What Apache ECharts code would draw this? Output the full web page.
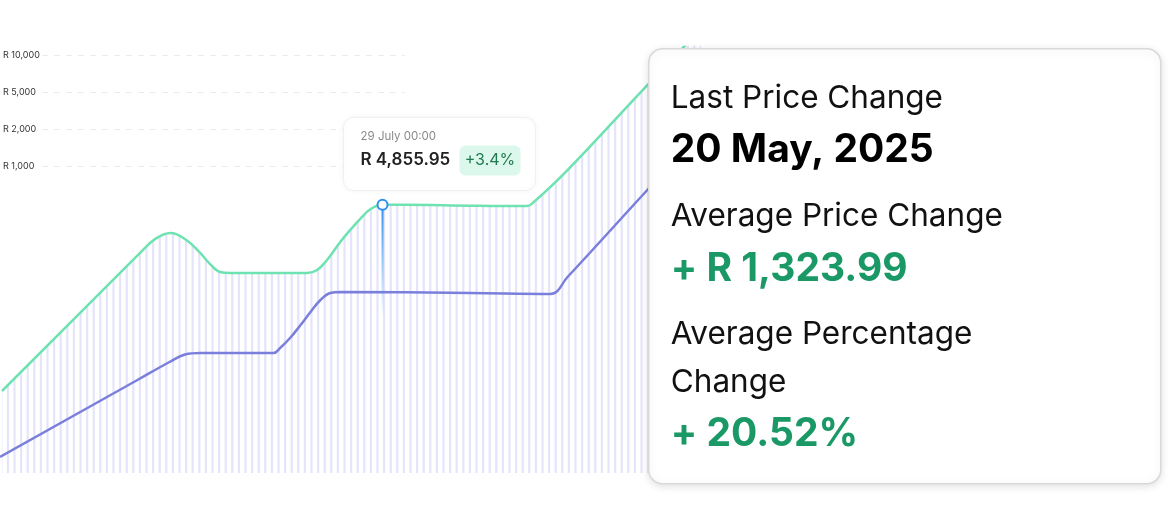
<!DOCTYPE html>
<html>
<head>
<meta charset="utf-8">
<script src="https://cdn.jsdelivr.net/npm/echarts@6/dist/echarts.min.js"></script>
<style>
  html, body { margin: 0; padding: 0; background: #ffffff; }
  #chart { width: 1176px; height: 532px; }
</style>
</head>
<body>
<div id="chart"></div>
<script>
// ---- data ----
const yTickLabels = ['R 1,000', 'R 2,000', 'R 5,000', 'R 10,000'];

// day index vs price
const greenDays   = [0.3, 21.2, 23.5, 25.8, 28.2, 30.3, 31.8, 33.3, 34.8, 46.5, 48.0, 49.5, 51.5, 53.0, 54.5, 56.1, 57.9, 60.6, 71.2, 75.8, 79.8, 80.8, 85.9, 97.7, 106.1];
const greenPrices = [1485, 3984, 4240, 4346, 4220, 3984, 3784, 3640, 3621, 3621, 3676, 3857, 4183, 4400, 4599, 4780, 4855.95, 4856, 4840, 4835, 4835, 4907, 5486, 6989, 8040];

const blueDays   = [0, 20.8, 25.8, 28.0, 30.3, 41.4, 42.4, 43.9, 45.5, 47.0, 48.5, 50.0, 51.5, 71.2, 83.3, 85.9, 97.7, 106.1];
const bluePrices = [290, 1684, 2019, 2146, 2173, 2173, 2263, 2444, 2680, 2915, 3133, 3259, 3277, 3259, 3241, 3549, 5088, 6174];

const hoverDay = 57.9;
const hoverPrice = 4855.95;
const hoverDate = '29 July 00:00';
const hoverLabel = 'R 4,855.95';
const hoverChange = '+3.4%';

const panelTitle = 'Last Price Change';
const panelDate = '20 May, 2025';
const avgPriceTitle = 'Average Price Change';
const avgPriceValue = '+ R 1,323.99';
const avgPctTitle1 = 'Average Percentage';
const avgPctTitle2 = 'Change';
const avgPctValue = '+ 20.52%';

// ---- stripe pattern ----
const pc = document.createElement('canvas');
pc.width = 33; pc.height = 4;
const pctx = pc.getContext('2d');
pctx.fillStyle = 'rgba(120,120,235,0.2)';
for (let i = 0; i < 5; i++) pctx.fillRect(i * 6.6 + 0.2, 0, 2.2, 4);

const zip = (a, b) => a.map((v, i) => [v, b[i]]);

const chart = echarts.init(document.getElementById('chart'), null, { renderer: 'canvas' });
const FONT = 'Inter, "Noto Sans", sans-serif';

function G(el) { el.zlevel = 2; el.z = 100; return el; }

const option = {
  animation: false,
  grid: [
    { left: 0, right: 0, top: 47, bottom: 59 },
    { left: 40, top: 55, width: 365, height: 111 }
  ],
  xAxis: [
    { type: 'value', min: 0, max: 178, show: false, gridIndex: 0 },
    { type: 'value', min: 0, max: 1, show: false, gridIndex: 1 }
  ],
  yAxis: [
    { type: 'value', min: 0, max: 7714, show: false, gridIndex: 0 },
    {
      type: 'category', gridIndex: 1, data: yTickLabels, boundaryGap: false,
      axisLine: { show: false }, axisTick: { show: false },
      axisLabel: { align: 'left', margin: 39, fontSize: 9, color: '#333', fontFamily: FONT },
      splitLine: { show: true, lineStyle: { type: [6, 6], color: '#ebebeb', width: 1 } }
    }
  ],
  series: [
    {
      type: 'line', xAxisIndex: 0, yAxisIndex: 0,
      data: zip(greenDays, greenPrices),
      smooth: 0.4, symbol: 'none',
      lineStyle: { color: '#6ee2b0', width: 2.5 },
      areaStyle: { color: { image: pc, repeat: 'repeat' }, opacity: 1 },
      z: 3
    },
    {
      type: 'line', xAxisIndex: 0, yAxisIndex: 0,
      data: zip(blueDays, bluePrices),
      smooth: 0.4, symbol: 'none',
      lineStyle: { color: '#7a7fdb', width: 2.5 },
      z: 4
    },
    {
      type: 'custom', xAxisIndex: 0, yAxisIndex: 0,
      data: [[hoverDay, hoverPrice]],
      z: 5,
      renderItem: function (params, api) {
        const p = api.coord([api.value(0), api.value(1)]);
        return {
          type: 'group',
          children: [
            {
              type: 'rect',
              shape: { x: p[0] - 1, y: p[1], width: 2, height: 112 },
              style: {
                fill: new echarts.graphic.LinearGradient(0, 0, 0, 1, [
                  { offset: 0, color: 'rgba(47,143,240,1)' },
                  { offset: 1, color: 'rgba(47,143,240,0)' }
                ])
              }
            },
            {
              type: 'circle',
              shape: { cx: p[0], cy: p[1], r: 5 },
              style: { fill: '#ffffff', stroke: '#2f8ff0', lineWidth: 2 }
            }
          ]
        };
      }
    }
  ],
  graphic: [
    G({
      type: 'group', left: 343, top: 117,
      children: [
        G({ type: 'rect', shape: { x: 0, y: 0, width: 192, height: 73, r: 10 },
          style: { fill: '#ffffff', stroke: '#f0f0f4', lineWidth: 1, shadowBlur: 6, shadowColor: 'rgba(0,0,0,0.05)' } }),
        G({ type: 'text', x: 17, y: 19, style: { text: hoverDate, font: '400 11.5px ' + FONT, fill: '#8a8a8a', verticalAlign: 'middle' } }),
        G({ type: 'text', x: 17, y: 42, style: { text: hoverLabel, font: '600 17px ' + FONT, fill: '#222222', verticalAlign: 'middle' } }),
        G({ type: 'rect', shape: { x: 116, y: 28, width: 61, height: 30, r: 6 }, style: { fill: '#dcf7eb' } }),
        G({ type: 'text', x: 146.5, y: 43, style: { text: hoverChange, font: '400 16px ' + FONT, fill: '#1f7a50', align: 'center', verticalAlign: 'middle' } })
      ]
    }),
    G({
      type: 'group', left: 648, top: 48,
      children: [
        G({ type: 'rect', shape: { x: 0, y: 0, width: 512, height: 435, r: 14 },
          style: { fill: '#ffffff', stroke: '#d9d9d9', lineWidth: 1.5, shadowBlur: 8, shadowOffsetY: 2, shadowColor: 'rgba(0,0,0,0.12)' } }),
        G({ type: 'text', x: 22, y: 50, style: { text: panelTitle, font: '400 31.5px ' + FONT, fill: '#111111', verticalAlign: 'middle' } }),
        G({ type: 'text', x: 22, y: 102, style: { text: panelDate, font: '700 39px ' + FONT, fill: '#000000', verticalAlign: 'middle' } }),
        G({ type: 'text', x: 22, y: 168, style: { text: avgPriceTitle, font: '400 31.5px ' + FONT, fill: '#111111', verticalAlign: 'middle' } }),
        G({ type: 'text', x: 22, y: 221, style: { text: avgPriceValue, font: '700 39px ' + FONT, fill: '#1a9966', verticalAlign: 'middle' } }),
        G({ type: 'text', x: 22, y: 286, style: { text: avgPctTitle1, font: '400 31.5px ' + FONT, fill: '#111111', verticalAlign: 'middle' } }),
        G({ type: 'text', x: 22, y: 334, style: { text: avgPctTitle2, font: '400 31.5px ' + FONT, fill: '#111111', verticalAlign: 'middle' } }),
        G({ type: 'text', x: 22, y: 386, style: { text: avgPctValue, font: '700 39px ' + FONT, fill: '#1a9966', verticalAlign: 'middle' } })
      ]
    })
  ]
};

chart.setOption(option);
</script>
</body>
</html>
